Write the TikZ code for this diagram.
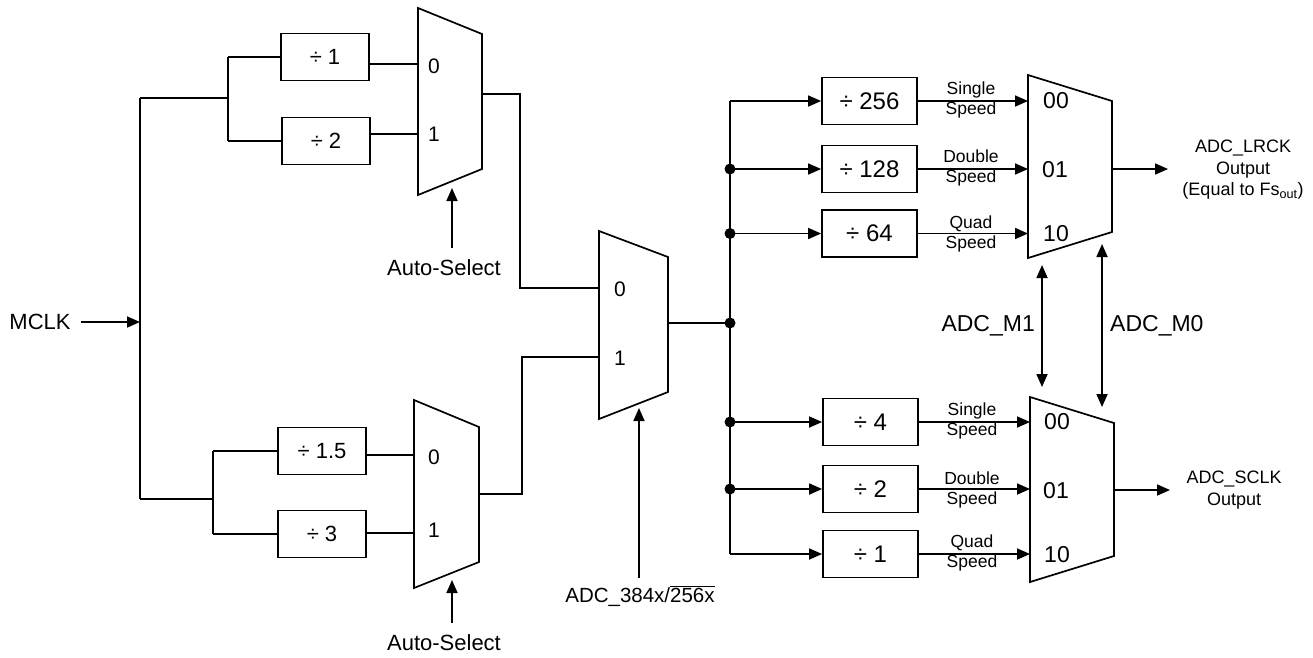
\documentclass[tikz,border=0pt]{standalone}
\usepackage{fontspec}
\setmainfont{Liberation Sans}
\usetikzlibrary{arrows.meta}
\tikzset{
  wire/.style={line width=1.7pt},
  arr/.style={wire,-{Triangle[length=13pt,width=11pt]}},
  darr/.style={wire,{Triangle[length=13pt,width=11pt]}-{Triangle[length=13pt,width=11pt]}},
  divL/.style={draw,line width=1.7pt,minimum width=88pt,minimum height=47pt,inner sep=0pt,font=\fontsize{22}{26}\selectfont},
  divR/.style={draw,line width=1.7pt,minimum width=95pt,minimum height=47pt,inner sep=0pt,font=\fontsize{24}{28}\selectfont},
  muxshape/.style={line width=1.7pt},
  lbl/.style={inner sep=0pt,font=\fontsize{22}{26}\selectfont},
  port/.style={inner sep=0pt,font=\fontsize{21}{25}\selectfont},
  portR/.style={inner sep=0pt,font=\fontsize{23}{27}\selectfont},
  spd/.style={inner sep=0pt,align=center,font=\fontsize{17.5}{21}\selectfont},
  outl/.style={inner sep=0pt,align=center,font=\fontsize{18}{21.5}\selectfont},
  junc/.style={circle,fill=black,inner sep=0pt,minimum size=11pt},
}
\begin{document}
\begin{tikzpicture}[x=1pt,y=-1pt]
\useasboundingbox (0,0) rectangle (1313,657);

% ---------- MCLK input ----------
\node[lbl] (mclk) at (40,322) {MCLK};
\coordinate (mt) at (140,98);
\coordinate (mm) at (140,322);
\coordinate (mb) at (140,499);
\draw[arr] (mclk.east)+(10,0) -- (mm);
\draw[wire] (mt) -- (mb);

% ---------- top divider pair ----------
\node[divL] (d1) at (325,57) {÷ 1};
\node[divL] (d2) at (326,141) {÷ 2};
\coordinate (bt) at (228,98);
\draw[wire] (mt) -- (bt);
\draw[wire] (bt |- d1.west) -- (bt |- d2.west);
\draw[wire] (bt |- d1.west) -- (d1.west);
\draw[wire] (bt |- d2.west) -- (d2.west);

% top mux
\draw[muxshape] (418,8) -- (482,34) -- (482,169) -- (418,195) -- cycle;
\coordinate (m1a) at (418,64);
\coordinate (m1b) at (418,134);
\coordinate (m1o) at (482,94);
\coordinate (m1s) at (452,188);
\node[port] (m1l0) at (434,66) {0};
\node[port] (m1l1) at (434,134) {1};
\draw[wire] (d1.east |- m1a) -- (m1a);
\draw[wire] (d2.east |- m1b) -- (m1b);
\node[lbl] (as1) at (444,268) {Auto-Select};
\draw[arr] (as1.north)+(8,-12) -- (m1s);

% ---------- bottom divider pair ----------
\node[divL] (d3) at (322,451) {÷ 1.5};
\node[divL] (d4) at (322,534) {÷ 3};
\coordinate (bb) at (213,499);
\draw[wire] (mb) -- (bb);
\draw[wire] (bb |- d3.west) -- (bb |- d4.west);
\draw[wire] (bb |- d3.west) -- (d3.west);
\draw[wire] (bb |- d4.west) -- (d4.west);

% bottom mux
\draw[muxshape] (414,400) -- (479,427) -- (479,562) -- (414,588) -- cycle;
\coordinate (m2a) at (414,455);
\coordinate (m2b) at (414,533);
\coordinate (m2o) at (479,494);
\coordinate (m2s) at (452,580);
\node[port] (m2l0) at (434,457) {0};
\node[port] (m2l1) at (434,530) {1};
\draw[wire] (d3.east |- m2a) -- (m2a);
\draw[wire] (d4.east |- m2b) -- (m2b);
\node[lbl] (as2) at (444,643) {Auto-Select};
\draw[arr] (as2.north)+(8,-12) -- (m2s);

% ---------- middle mux ----------
\draw[muxshape] (599,231) -- (668,257) -- (668,392) -- (599,419) -- cycle;
\coordinate (m3a) at (599,288);
\coordinate (m3b) at (599,357);
\coordinate (m3o) at (668,323);
\coordinate (m3s) at (639,408);
\node[port] (m3l0) at (620,289) {0};
\node[port] (m3l1) at (620,358) {1};
\draw[wire] (m1o) -- (520,94) -- (520,288) -- (m3a);
\draw[wire] (m2o) -- (522,494) -- (522,357) -- (m3b);
\node[inner sep=0pt,font=\fontsize{20.5}{24}\selectfont] (sel) at (640,596) {ADC\_384x/$\overline{\hbox{256x}}$};
\draw[arr] (sel.north)+(-1,-8) -- (m3s);

% ---------- bus ----------
\coordinate (bus) at (730,323);
\draw[wire] (m3o) -- (bus);
\node[divR] (r1) at (869.5,101) {÷ 256};
\node[divR] (r2) at (869.5,169) {÷ 128};
\node[divR] (r3) at (869.5,233.5) {÷ 64};
\node[divR] (r4) at (870.5,422) {÷ 4};
\node[divR] (r5) at (870.5,489) {÷ 2};
\node[divR] (r6) at (870.5,554) {÷ 1};
\draw[wire] (bus |- r1.west) -- (bus |- r6.west);
\foreach \r in {r1,r2,r3,r4,r5,r6} {
  \draw[arr] (bus |- \r.west) -- (\r.west);
}
\foreach \r in {r2,r3,r4,r5} {
  \node[junc] at (bus |- \r.west) {};
}
\node[junc] (jb) at (bus) {};

% ---------- right top mux ----------
\draw[muxshape] (1028,75) -- (1112,101) -- (1112,232) -- (1028,258) -- cycle;
\coordinate (m4a) at (1028,101);
\coordinate (m4b) at (1028,169);
\coordinate (m4c) at (1028,233.5);
\node[portR] at (1056,101) {00};
\node[portR] at (1055,170) {01};
\node[portR] at (1056,234) {10};
\draw[arr] (r1.east) -- (m4a);
\draw[arr] (r2.east) -- (m4b);
\draw[arr] (r3.east) -- (m4c);
\node[spd] at (971,100) {Single\\[-1pt]Speed};
\node[spd] at (971,168) {Double\\[-1pt]Speed};
\node[spd] at (971,234) {Quad\\[-1pt]Speed};
\coordinate (m4o) at (1112,169);
\coordinate (m4t) at (1168,169);
\draw[arr] (m4o) -- (m4t);
\node[outl] (lrck) at (1243,170) {ADC\_LRCK\\Output\\(Equal to Fs\textsubscript{out})};

% ---------- right bottom mux ----------
\draw[muxshape] (1030,397) -- (1114,423) -- (1114,556) -- (1030,582) -- cycle;
\coordinate (m5a) at (1030,422);
\coordinate (m5b) at (1030,489);
\coordinate (m5c) at (1030,554);
\node[portR] at (1057,422) {00};
\node[portR] at (1056,491) {01};
\node[portR] at (1057,555) {10};
\draw[arr] (r4.east) -- (m5a);
\draw[arr] (r5.east) -- (m5b);
\draw[arr] (r6.east) -- (m5c);
\node[spd] at (972,421) {Single\\[-1pt]Speed};
\node[spd] at (972,490) {Double\\[-1pt]Speed};
\node[spd] at (972,553) {Quad\\[-1pt]Speed};
\coordinate (m5o) at (1114,490);
\coordinate (m5t) at (1170,490);
\draw[arr] (m5o) -- (m5t);
\node[outl] (sclk) at (1234,490) {ADC\_SCLK\\Output};

% ---------- mode selects ----------
\coordinate (m1top) at (1042,265);
\coordinate (m1bot) at (1042,387);
\coordinate (m0top) at (1102,244);
\coordinate (m0bot) at (1102,407);
\draw[darr] (m1top) -- (m1bot);
\draw[darr] (m0top) -- (m0bot);
\node[inner sep=0pt,anchor=east,font=\fontsize{23}{27}\selectfont] (am1) at (1035,326) {ADC\_M1};
\node[inner sep=0pt,anchor=west,font=\fontsize{23}{27}\selectfont] (am0) at (1110,326) {ADC\_M0};
\end{tikzpicture}
\end{document}
